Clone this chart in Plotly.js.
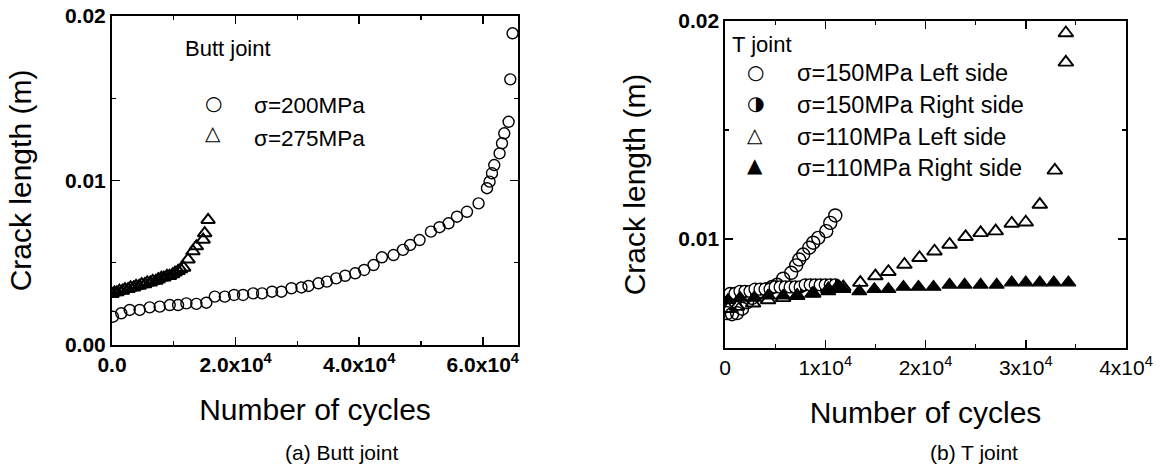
<!DOCTYPE html>
<html><head><meta charset="utf-8">
<script src="https://cdn.plot.ly/plotly-3.0.1.min.js"></script>
<style>html,body{margin:0;padding:0;background:#fff}#chart{width:1161px;height:471px}</style>
</head><body><div id="chart"></div>
<script>
// ---------- (a) Butt joint ----------
const buttCycles200 = [160, 1500, 2860, 4480, 6100, 7720, 9340, 10690, 12040, 13650, 15270, 16630, 18250, 19750, 21210, 22830, 24290, 25900, 27420, 29040, 30660, 31800, 33400, 34770, 36270, 37730, 39350, 40810, 42320, 43680, 45560, 47080, 48260, 49770, 51610, 53000, 54460, 55820, 57440, 59320, 60680, 61100, 61490, 61860, 62720, 63110, 63480, 64180, 64450, 64820];
const buttCrack200 = [0.00172, 0.00193, 0.00213, 0.00213, 0.00229, 0.00233, 0.00243, 0.00243, 0.00253, 0.0025, 0.00257, 0.00294, 0.00294, 0.00304, 0.00304, 0.00314, 0.00314, 0.00324, 0.00324, 0.00345, 0.0035, 0.00359, 0.00375, 0.00385, 0.00405, 0.00421, 0.00436, 0.00456, 0.00486, 0.00533, 0.00547, 0.00578, 0.00608, 0.00638, 0.00689, 0.00716, 0.0074, 0.0078, 0.0081, 0.00861, 0.00953, 0.00993, 0.01044, 0.01094, 0.01165, 0.01226, 0.01287, 0.01357, 0.01615, 0.01895];
const buttCycles275 = [0, 400, 800, 1200, 1700, 2100, 2600, 3000, 3500, 3900, 4400, 4800, 5300, 5700, 6200, 6600, 7100, 7500, 8000, 8400, 8900, 9300, 9800, 10200, 10700, 11100, 11600, 12300, 13100, 13650, 14750, 15000, 15550];
const buttCrack275 = [0.0031, 0.0032, 0.0032, 0.0033, 0.0033, 0.0034, 0.0034, 0.0035, 0.0035, 0.0036, 0.0036, 0.0037, 0.0037, 0.0038, 0.0038, 0.0039, 0.0039, 0.0040, 0.0041, 0.0041, 0.0042, 0.0042, 0.0043, 0.0044, 0.0045, 0.0046, 0.0047, 0.0052, 0.0057, 0.0060, 0.0064, 0.0068, 0.0076];
const buttXTickVals = [0, 20000, 40000, 60000];
const buttXTickText = ['0.0', '2.0x10<sup>4</sup>', '4.0x10<sup>4</sup>', '6.0x10<sup>4</sup>'];
const buttYTickVals = [0, 0.01, 0.02];
const buttYTickText = ['0.00', '0.01', '0.02'];

// ---------- (b) T joint ----------
const tCycles150L = [200, 700, 1200, 1700, 2200, 2700, 3200, 3700, 4200, 4700, 5200, 5800, 6600, 7100, 7400, 7800, 8400, 8800, 9300, 10100, 10500, 11000];
const tCrack150L = [0.0066, 0.00655, 0.0066, 0.0068, 0.0071, 0.0073, 0.0075, 0.0076, 0.0077, 0.0078, 0.0079, 0.00818, 0.00845, 0.00879, 0.00906, 0.00929, 0.0096, 0.00983, 0.01005, 0.01036, 0.01074, 0.01108];
const tCycles150R = [0, 500, 1000, 1500, 2000, 2500, 3000, 3500, 4000, 4500, 5000, 5500, 6000, 6500, 7000, 7500, 8000, 8500, 9000, 9500, 10000, 10500, 11000];
const tCrack150R = [0.0074, 0.0075, 0.0075, 0.0076, 0.0076, 0.0076, 0.0077, 0.0077, 0.0077, 0.0077, 0.0078, 0.0078, 0.0078, 0.0078, 0.0078, 0.0078, 0.0079, 0.0079, 0.0079, 0.0079, 0.0079, 0.0079, 0.0079];
const tCycles110L = [300, 1200, 2800, 4300, 5800, 7200, 8800, 10300, 11800, 13500, 15000, 16300, 17900, 19400, 20900, 22400, 24000, 25500, 27000, 28600, 30000, 31400, 32900, 34000, 34000];
const tCrack110L = [0.0068, 0.0069, 0.00705, 0.0072, 0.0073, 0.0074, 0.0075, 0.0077, 0.0078, 0.0080, 0.0083, 0.0085, 0.00883, 0.00914, 0.00944, 0.00975, 0.0101, 0.01028, 0.01036, 0.01071, 0.01077, 0.01158, 0.01315, 0.0181, 0.01945];
const tCycles110R = [300, 1500, 2900, 4300, 5800, 7200, 8700, 10300, 11000, 11800, 13400, 14900, 16300, 17800, 19300, 20800, 22400, 23900, 25500, 27100, 28600, 30000, 31400, 32800, 34250];
const tCrack110R = [0.0072, 0.0073, 0.0073, 0.0074, 0.0074, 0.0074, 0.0075, 0.0076, 0.0077, 0.0077, 0.0076, 0.0077, 0.0077, 0.0078, 0.0078, 0.0078, 0.0079, 0.0079, 0.0079, 0.0079, 0.0080, 0.0080, 0.0080, 0.0080, 0.0080];
const tXTickVals = [0, 10000, 20000, 30000, 40000];
const tXTickText = ['0', '1x10<sup>4</sup>', '2x10<sup>4</sup>', '3x10<sup>4</sup>', '4x10<sup>4</sup>'];
const tYTickVals = [0.01, 0.02];
const tYTickText = ['0.01', '0.02'];

const W = 1161, H = 471;
const fx = p => p / W, fy = p => 1 - p / H;
const FONT = 'Liberation Sans, Arial, sans-serif';

const traces = [
  {x: buttCycles200, y: buttCrack200, type: 'scatter', mode: 'markers', xaxis: 'x', yaxis: 'y',
   marker: {symbol: 'circle-open', size: 11, color: '#000', line: {width: 1.4}}, showlegend: false},
  {x: buttCycles275, y: buttCrack275, type: 'scatter', mode: 'markers', xaxis: 'x', yaxis: 'y',
   marker: {symbol: 'triangle-up-open', size: 12, color: '#000', line: {width: 2}}, showlegend: false},
  {x: tCycles150L, y: tCrack150L, type: 'scatter', mode: 'markers', xaxis: 'x2', yaxis: 'y2',
   marker: {symbol: 'circle-open', size: 13, color: '#000', line: {width: 1.4}}, showlegend: false},
  {x: tCycles150R, y: tCrack150R, type: 'scatter', mode: 'markers', xaxis: 'x2', yaxis: 'y2',
   marker: {symbol: 'circle', size: 12, color: '#fff', gradient: {type: 'horizontal', color: '#000'},
            line: {width: 1.3, color: '#000'}}, showlegend: false},
  {x: tCycles110L, y: tCrack110L, type: 'scatter', mode: 'markers', xaxis: 'x2', yaxis: 'y2',
   marker: {symbol: 'triangle-up-open', size: 13, color: '#000', line: {width: 1.9}}, showlegend: false},
  {x: tCycles110R, y: tCrack110R, type: 'scatter', mode: 'markers', xaxis: 'x2', yaxis: 'y2',
   marker: {symbol: 'triangle-up', size: 13, color: '#000', line: {width: 1.2, color: '#000'}}, showlegend: false}
];

function axis(extra) {
  return Object.assign({
    showline: true, linecolor: '#000', linewidth: 2, mirror: 'ticks',
    ticks: 'inside', ticklen: 8, tickwidth: 1.5, tickcolor: '#000',
    showgrid: false, zeroline: false, tickmode: 'array',
    tickfont: {family: FONT, size: 21, color: '#000'}
  }, extra);
}
const minorStyle = {ticks: 'inside', ticklen: 4, tickwidth: 1.2, tickcolor: '#000', tickmode: 'array'};

const layout = {
  width: W, height: H, margin: {l: 0, r: 0, t: 0, b: 0},
  paper_bgcolor: '#fff', plot_bgcolor: '#fff', showlegend: false,
  font: {family: FONT, color: '#000'},
  xaxis: axis({domain: [fx(112), fx(518)], range: [0, 65700], anchor: 'y',
    tickvals: buttXTickVals, ticktext: buttXTickText,
    tickfont: {family: FONT, size: 21, color: '#000', weight: 'bold'},
    minor: Object.assign({tickvals: [10000, 30000, 50000]}, minorStyle),
    title: {text: 'Number of cycles', font: {family: FONT, size: 30, color: '#000'}, standoff: 24}}),
  yaxis: axis({domain: [fy(345), fy(16)], range: [0, 0.02], anchor: 'x',
    tickvals: buttYTickVals, ticktext: buttYTickText,
    tickfont: {family: FONT, size: 21, color: '#000', weight: 'bold'},
    minor: Object.assign({tickvals: [0.005, 0.015]}, minorStyle),
    title: {text: 'Crack length (m)', font: {family: FONT, size: 30, color: '#000'}, standoff: 24}}),
  xaxis2: axis({domain: [fx(725), fx(1126)], range: [0, 40000], anchor: 'y2', linewidth: 1.6,
    tickvals: tXTickVals, ticktext: tXTickText,
    minor: Object.assign({tickvals: [5000, 15000, 25000, 35000]}, minorStyle),
    title: {text: 'Number of cycles', font: {family: FONT, size: 30, color: '#000'}, standoff: 24}}),
  yaxis2: axis({domain: [fy(348), fy(21)], range: [0.005, 0.02], anchor: 'x2', linewidth: 1.6,
    tickvals: tYTickVals, ticktext: tYTickText,
    tickfont: {family: FONT, size: 21, color: '#000', weight: 'bold'},
    minor: Object.assign({tickvals: [0.015]}, minorStyle),
    title: {text: 'Crack length (m)', font: {family: FONT, size: 30, color: '#000'}, standoff: 24}}),
  annotations: []
};

function ann(text, x, y, opts) {
  layout.annotations.push(Object.assign({text: text, x: fx(x), y: fy(y), xref: 'paper', yref: 'paper',
    xanchor: 'left', yanchor: 'middle', showarrow: false,
    font: {family: FONT, size: 20, color: '#000'}}, opts || {}));
}
const SYM = {family: 'DejaVu Sans', size: 20, color: '#000'};
// legend (a)
ann('Butt joint', 183, 49, {font: {family: FONT, size: 22, color: '#000'}});
ann('\u25CB', 213, 103, {xanchor: 'center', font: SYM});
ann('\u25B3', 213, 133, {xanchor: 'center', font: SYM});
ann('\u03C3=200MPa', 252, 106, {font: {family: FONT, size: 22.5, color: '#000'}});
ann('\u03C3=275MPa', 252, 139, {font: {family: FONT, size: 22.5, color: '#000'}});
// legend (b)
ann('T joint', 730, 45, {font: {family: FONT, size: 22, color: '#000'}});
ann('\u25CB', 755, 72, {xanchor: 'center', font: SYM});
ann('\u25D1', 755, 103, {xanchor: 'center', font: SYM});
ann('\u25B3', 755, 135, {xanchor: 'center', font: SYM});
ann('\u25B2', 755, 165, {xanchor: 'center', font: SYM});
ann('\u03C3=150MPa Left side', 795, 73, {font: {family: FONT, size: 23.5, color: '#000'}});
ann('\u03C3=150MPa Right side', 795, 105, {font: {family: FONT, size: 23.5, color: '#000'}});
ann('\u03C3=110MPa Left side', 795, 137, {font: {family: FONT, size: 23.5, color: '#000'}});
ann('\u03C3=110MPa Right side', 795, 168, {font: {family: FONT, size: 23.5, color: '#000'}});
// captions
ann('(a) Butt joint', 341, 452, {xanchor: 'center', font: {family: FONT, size: 21, color: '#000'}});
ann('(b) T joint', 974, 452, {xanchor: 'center', font: {family: FONT, size: 21, color: '#000'}});

Plotly.newPlot('chart', traces, layout, {displayModeBar: false, staticPlot: true}).then(gd => {
  // make the horizontal gradient of the half-filled circles a hard split (left white, right black)
  gd.querySelectorAll('linearGradient').forEach(g => {
    g.setAttribute('x1', '0'); g.setAttribute('x2', '1');
    g.setAttribute('y1', '0'); g.setAttribute('y2', '0');
    while (g.firstChild) g.removeChild(g.firstChild);
    [['0', '#fff'], ['0.5', '#fff'], ['0.5', '#000'], ['1', '#000']].forEach(s => {
      const st = document.createElementNS('http://www.w3.org/2000/svg', 'stop');
      st.setAttribute('offset', s[0]); st.setAttribute('stop-color', s[1]);
      g.appendChild(st);
    });
  });
});
</script></body></html>
